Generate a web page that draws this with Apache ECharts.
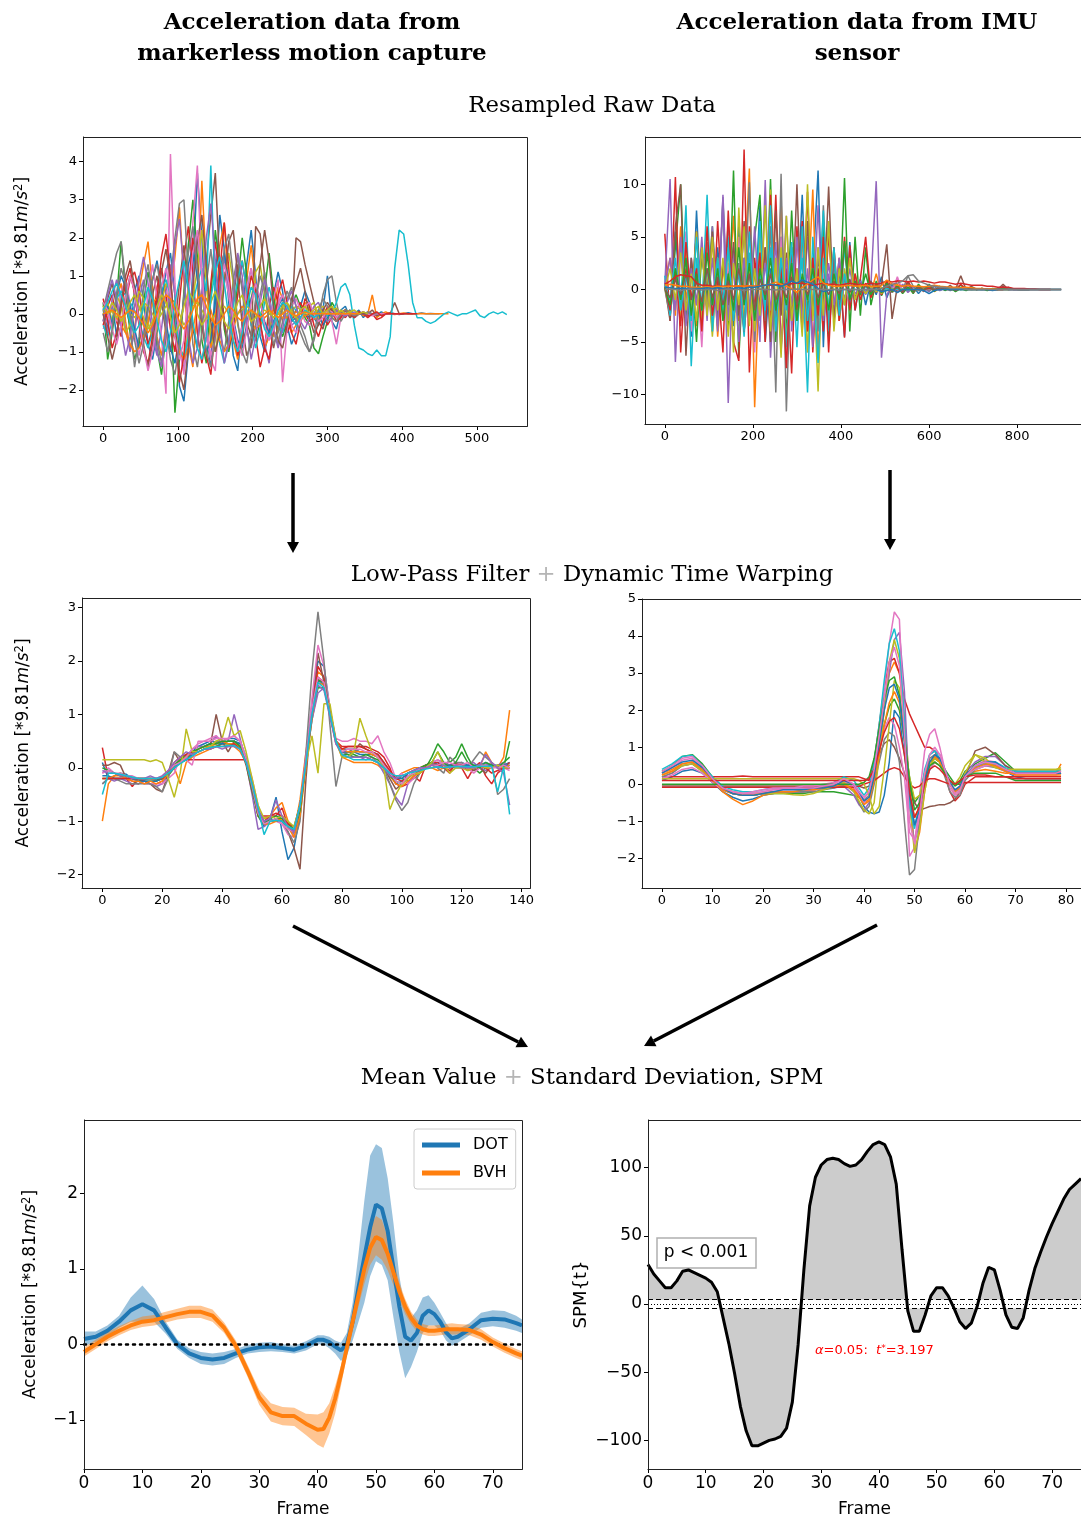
<!DOCTYPE html>
<html>
<head>
<meta charset="utf-8">
<script src="https://cdn.jsdelivr.net/npm/echarts@6/dist/echarts.min.js"></script>
<style>
  html, body { margin: 0; padding: 0; background: #ffffff; }
  #chart { width: 1081px; height: 1521px; }
</style>
</head>
<body>
<div id="chart"></div>
<script>
// ---------- colour cycle ----------
const TAB10 = ['#1f77b4', '#ff7f0e', '#2ca02c', '#d62728', '#9467bd',
               '#8c564b', '#e377c2', '#7f7f7f', '#bcbd22', '#17becf'];

// ---------- panel 1: resampled markerless traces (one sample every 6 frames) ----------
const RAW_MC_STEP = 6;
const rawMC_0 = [0.1,-0.4,0.3,-0.6,0.5,0.2,-0.3,0.6,1.0,0.4, -0.8,-1.2,-0.5,0.3,1.1,1.6,0.5,-1.9,-2.3,-1.0, 1.2,3.7,2.0,-0.5,-1.4,0.8,2.6,1.7,0.3,-1.1, -1.5,-0.2,1.3,2.2,1.0,-0.6,-1.0,-0.4,0.5,1.1, 0.6,-0.3,-0.8,-0.5,0.2,0.6,0.3,-0.1,-0.3,0.1, 1.0,-0.2,-0.4,0.1,0.2,-0.1,0.0,0.1,-0.1,0.05, 0.0,-0.05,0.05,0.0,0.02,0.0,-0.02,0.0,0.03,0.0, 0.0,0.02,0.0,0.01,0.0,0.0];
const rawMC_1 = [0.2,0.0,-0.3,0.4,0.8,-0.2,-0.9,-0.4,0.6,1.3, 1.9,0.7,-0.6,-1.1,-0.3,0.5,1.5,2.8,0.9,-0.8, -1.4,0.2,3.5,1.2,-0.9,-0.2,1.8,2.4,0.6,-0.7, -1.2,-0.5,0.9,1.8,0.7,-0.3,-0.9,-0.6,0.2,0.7, 0.4,-0.2,-0.5,-0.3,0.1,0.3,0.1,-0.1,-0.2,0.0, 0.15,-0.1,-0.2,0.05,0.1,-0.05,0.0,0.05,-0.05,0.0, 0.5,-0.1,0.0,0.05,0.0,-0.02,0.0,0.02,0.0,0.0, 0.0,0.01,0.0,0.0,0.0,0.0,0.0,0.0];
const rawMC_2 = [0.3,-1.2,-0.5,0.4,1.9,0.6,-0.5,-1.2,-0.8,0.3, 1.1,0.4,-0.9,-1.6,-0.6,0.5,-2.6,-1.2,0.6,1.8, 3.0,1.5,-0.7,-1.3,0.4,2.2,1.2,-0.4,-1.0,-0.3, 0.8,2.0,1.0,-0.2,-0.7,-0.2,0.6,1.6,0.5,-0.3, -0.6,-0.2,0.2,0.5,0.2,-0.1,-0.3,-0.9,-1.05,-0.6, -0.2,0.3,0.1,-0.1,0.0,0.1,-0.1,0.0,0.05,-0.05, 0.0,0.02,0.0,0.0,0.0,0.0,0.0];
const rawMC_3 = [-0.3,0.2,0.5,-0.2,-0.6,0.3,0.9,1.1,0.6,-0.3, -0.8,-0.4,0.7,1.2,0.5,-0.4,-1.0,0.3,1.5,2.3, 1.1,-0.5,-1.3,-0.6,0.8,1.9,1.0,-0.2,-0.9,-0.4, 0.5,1.4,0.6,-0.3,-0.6,-1.4,-0.9,0.2,0.7,0.3, -0.2,-0.5,-0.2,0.1,0.3,0.0,-0.2,-0.1,0.1,0.0, -0.3,-0.1,0.1,0.0,-0.1,0.05,-0.1,0.0,0.05,-0.05, 0.0,-0.15,-0.1,0.0,0.02,0.0,0.0,0.0];
const rawMC_4 = [0.0,-0.5,0.4,0.9,0.3,-0.4,-1.0,-0.5,0.4,0.9, 0.3,-0.6,-1.1,-0.4,0.6,1.3,0.5,-0.7,-1.5,-0.6, 0.9,2.1,1.0,-0.4,-1.2,-0.5,0.7,1.5,0.6,-0.4, -1.0,-0.3,0.6,1.2,0.4,-0.3,-0.8,-1.3,-0.4,0.3, 0.5,0.1,-0.3,-0.2,0.1,0.2,0.0,-0.1,0.0,0.1, -0.05,0.0,0.05,0.0,-0.05,0.0,0.0,0.0,0.0,0.0, 0.0,0.0,0.0,0.0];
const rawMC_5 = [-0.2,0.4,0.8,0.2,-0.3,0.5,1.0,0.6,-0.2,-0.7, -0.3,0.5,1.0,0.3,-0.5,-1.0,-0.3,0.8,1.8,0.6, -0.4,-0.9,0.3,1.4,2.6,3.7,1.2,-0.3,-0.8,0.4, 1.3,0.7,-0.2,-0.6,2.3,2.1,1.0,-0.4,-0.9,-0.3, 0.3,0.2,-0.2,2.0,1.9,1.3,0.8,0.3,-0.2,-0.4, 0.1,0.2,-0.1,0.0,0.1,-0.1,0.0,0.05,0.0,0.0, 0.1,-0.05,0.0,0.0,0.0,0.3,0.0,0.0,0.0,0.0];
const rawMC_6 = [-0.4,-0.1,0.3,-0.2,0.6,0.9,0.3,-0.5,-1.1,-0.4, 0.5,1.3,0.4,-0.6,-2.1,4.2,0.8,-0.9,-1.6,0.3, 2.4,3.9,1.0,-0.6,-1.2,-1.5,0.3,1.1,0.5,-0.4, -0.9,-0.3,0.7,1.2,0.4,-0.4,-0.8,-0.3,0.4,0.9, -1.8,-0.4,0.2,0.4,0.1,-0.2,-0.3,-0.1,0.1,0.2, 0.0,-0.2,-0.8,-0.1,0.0,0.1,-0.1,0.0,0.05,0.0, -0.05,0.0,0.0,0.0,0.0,0.0,0.0];
const rawMC_7 = [0.1,0.6,1.1,1.6,1.9,0.8,-0.3,-1.4,-0.6,0.7, 1.3,0.5,-0.7,-1.3,-0.4,0.9,2.0,2.9,3.0,1.0, -0.8,-1.4,-0.5,0.8,1.7,0.6,-0.5,-1.0,-0.2,0.9, 1.5,0.6,-0.4,-0.9,-0.3,0.5,1.1,0.3,-0.5,-0.8, -0.2,0.4,0.7,0.2,-0.3,-0.6,-1.0,-0.7,-0.2,0.5, 0.9,1.0,0.3,-0.2,0.0,0.1,-0.1,0.0,0.0,0.05, 0.0,0.0];
const rawMC_8 = [0.0,0.3,-0.2,0.5,0.2,-0.5,-0.3,0.2,0.6,0.4, -0.2,-0.7,-0.4,0.3,0.8,0.6,-0.2,-0.9,-1.1,-0.5, 0.4,1.2,2.2,0.8,-0.6,-1.0,-0.2,0.9,1.6,0.8, -0.3,-0.8,-0.5,0.4,1.1,1.3,0.5,-0.2,-0.6,-0.4, 0.1,0.3,0.1,-0.1,-0.2,0.0,0.2,0.3,-0.1,0.0, 0.1,-0.1,0.0,0.05,0.0,0.0];
const rawMC_9 = [-0.3,-0.6,-0.2,0.4,0.6,0.5,0.3,0.1,-0.2,-0.6, -0.9,-0.5,0.1,0.6,0.9,0.5,-0.2,-0.8,-1.2,-0.6, 0.3,0.8,1.2,0.6,3.9,0.4,-0.8,-1.3,-0.7,0.2, 0.9,1.4,0.6,-0.3,-0.9,-0.4,0.3,0.7,0.2,-0.3, -0.5,-0.1,0.2,0.1,-0.1,0.1,0.0,-0.1,0.1,0.0, -0.05,0.0,0.3,0.7,0.8,0.5,-0.3,-0.9,-0.95,-1.05, -1.1,-0.95,-1.1,-1.1,-0.6,1.2,2.2,2.1,1.3,0.3, -0.1,-0.1,-0.2,-0.25,-0.2,-0.1,0.0,0.05,0.0,-0.05, 0.0,0.0,0.05,0.1,-0.05,-0.1,0.0,0.05,0.0,0.05, -0.02];
const rawMC_10 = [0.0,0.2,-0.3,0.5,1.0,0.7,0.2,-0.4,-0.9,-0.6, 0.2,0.9,1.4,0.7,-0.2,-0.9,-1.3,-0.6,0.4,1.3, 1.8,0.9,-0.2,-1.0,-0.7,0.3,1.2,1.6,0.8,-0.1, -0.7,-0.9,-0.3,0.4,0.8,0.3,-0.2,-0.5,-0.2,0.2, 0.4,0.1,-0.2,-0.1,0.1,0.0,-0.1,0.05,0.0,-0.3, -0.1,0.05,0.0,0.0,0.0,0.0,0.0,0.0];
const rawMC_11 = [0.1,0.0,0.1,-0.1,-0.3,-0.5,-0.8,-1.0,-0.9,-0.6, -0.2,0.3,0.4,0.5,0.3,-0.1,-0.6,-1.0,-1.2,-0.9, -0.4,0.2,0.5,0.4,0.1,-0.3,-0.7,-1.0,-0.8,-0.4, 0.0,0.2,0.1,-0.2,-0.4,-0.3,-0.1,0.0,0.1,0.0, -0.1,-0.1,0.0,0.05,0.0,-0.05,0.0,0.0,0.0,0.0, 0.0,0.0,0.0,0.0,0.0,0.0,0.0];
const rawMC_12 = [0.0,0.1,0.05,-0.1,0.1,0.2,0.0,-0.1,0.1,0.3, 0.2,0.0,-0.2,0.0,0.2,0.4,0.3,0.0,-0.3,-0.1, 0.2,0.3,0.1,-0.1,-0.2,0.0,0.1,0.2,0.0,-0.1, 0.0,0.1,0.2,0.1,-0.1,0.0,0.1,0.0,-0.1,0.0, 0.05,0.0,0.1,0.2,0.1,0.0,0.1,0.0,0.1,0.2, 0.0,0.1,0.15,0.0,0.1,0.05,0.0,0.0,0.02,0.0];
const rawMC_13 = [0.4,-0.2,-0.9,-0.5,0.2,0.8,1.2,0.5,-0.3,-1.0, -1.3,-0.6,0.4,1.5,2.1,1.0,-0.5,-1.8,-1.1,0.6, 2.0,1.3,-0.2,-1.1,-1.6,-0.4,1.1,2.4,1.2,-0.3, -1.1,-0.7,0.3,1.0,0.6,-0.2,-0.9,-1.2,-0.4,0.5, 0.9,0.3,-0.5,-0.8,-0.2,0.4,0.2,-0.3,-0.6,-0.2, 0.2,0.1,-0.2,-0.1,0.1,0.0,-0.1,0.05,0.0,-0.1, 0.0,0.05,-0.05,0.0,0.0,0.0,0.0,0.0,0.0,0.0, 0.0];
const rawMC_14 = [-0.2,0.5,0.9,0.4,-0.4,-1.1,-0.6,0.2,0.9,1.5, 0.8,-0.3,-1.0,-1.4,-0.5,0.7,1.8,2.5,1.1,-0.6, -1.3,-0.9,0.6,2.0,2.9,1.4,-0.2,-1.3,-0.8,0.5, 1.6,1.0,-0.3,-1.2,-0.6,0.3,0.9,0.4,-0.4,-0.9, -0.4,0.3,0.6,0.2,-0.2,-0.4,-0.1,0.2,0.3,0.0, -0.2,-0.1,0.1,0.0,-0.05,0.0,0.05,0.0,0.0,0.0];
const rawMC_15 = [0.0,-0.6,-1.2,-0.7,0.3,1.0,1.4,0.7,-0.1,-0.8, -1.4,-0.8,0.2,1.1,1.7,0.9,-0.4,-1.5,-2.0,-0.9, 0.7,1.9,2.6,1.3,-0.2,-1.0,-0.5,0.8,1.9,2.2, 1.0,-0.3,-1.1,-0.8,0.2,1.3,2.2,1.4,0.2,-0.7, -0.9,-0.3,0.4,0.8,1.2,0.6,-0.1,-0.5,-0.3,0.1, 0.3,0.1,-0.1,0.0,0.1,0.0,-0.05,0.0,0.0,0.0];
const rawMC_16 = [0.3,0.1,-0.4,-0.8,-0.3,0.4,1.0,0.6,-0.2,-0.9, -1.5,-1.0,-0.2,0.7,1.2,0.5,-0.6,-1.2,-0.7,0.5, 1.6,2.2,1.1,-0.3,-1.1,-0.7,0.4,1.3,0.8,-0.2, -0.8,-1.1,-0.4,0.3,0.8,0.4,-0.3,-0.7,-0.4,0.2, 0.5,0.2,-0.3,-0.5,-0.2,0.2,0.3,0.0,-0.2,-0.1, 0.1,0.05,-0.1,0.0,0.0,0.0,0.0,0.0];
const rawMC_17 = [-0.5,-1.0,-0.4,0.5,1.2,0.8,0.0,-0.7,-1.3,-0.8, 0.1,0.9,1.3,0.6,-0.4,-1.2,-1.6,-0.8,0.5,1.6, 2.3,1.2,-0.1,-1.0,-1.4,-0.6,0.6,1.7,2.1,1.0, -0.2,-1.0,-1.3,-0.5,0.4,1.0,0.6,-0.2,-0.8,-0.5, 0.2,0.6,0.3,-0.2,-0.5,-0.8,-1.0,-0.6,0.1,0.4, 0.2,-0.1,-0.2,0.0,0.1,0.0,-0.05,0.0];
const rawMC_18 = [0.2,0.0,0.3,0.1,-0.2,0.0,0.3,0.5,0.2,-0.1, -0.4,-0.2,0.2,0.5,0.3,-0.1,-0.5,-0.3,0.2,0.6, 0.4,0.0,-0.3,-0.1,0.3,0.6,0.2,-0.2,-0.4,-0.1, 0.3,0.5,0.1,-0.2,-0.1,0.2,0.4,0.1,-0.1,0.0, 0.2,0.3,0.0,-0.1,0.1,0.2,0.0,0.1,0.2,0.0, 0.1,0.2,0.0,0.1,0.0,0.05,0.1,0.0,0.05,0.0];
const rawMC_19 = [0.1,0.3,0.6,0.8,0.5,0.2,-0.2,-0.5,-0.3,0.2, 0.7,0.4,-0.2,-0.7,-1.0,-0.5,0.3,0.9,1.4,0.7, -0.2,-0.9,-1.2,-0.6,0.4,1.1,1.5,0.8,-0.1,-0.7, -1.0,-0.5,0.2,0.7,0.5,0.0,-0.4,-0.6,-0.3,0.1, 0.3,0.2,-0.1,-0.3,-0.1,0.1,0.0,-0.1,0.0,0.0];
const rawMC_20 = [0.0,0.05,0.1,0.0,-0.1,0.0,0.1,0.05,-0.1,-0.3, -0.5,-0.3,0.0,0.3,0.5,0.4,0.1,-0.2,-0.4,-0.2, 0.1,0.4,0.5,0.2,-0.1,-0.3,-0.2,0.0,0.2,0.1, -0.1,-0.2,0.0,0.1,0.0,-0.1,0.0,0.1,0.0,-0.1, 0.0,0.1,0.0,-0.05,0.0,0.05,0.0,0.0,0.0,0.0, 0.0,0.0,0.0,0.0,0.0,0.0,0.0,0.0];
const rawMC = [rawMC_0, rawMC_1, rawMC_2, rawMC_3, rawMC_4, rawMC_5, rawMC_6,
               rawMC_7, rawMC_8, rawMC_9, rawMC_10, rawMC_11, rawMC_12, rawMC_13,
               rawMC_14, rawMC_15, rawMC_16, rawMC_17, rawMC_18, rawMC_19, rawMC_20];
const rawMC_colors = [0, 1, 2, 3, 4, 5, 6, 7, 8, 9, 0, 1, 8, 3, 4, 5, 6, 7, 8, 9, 1];
const rawMC_xTicks = [0, 100, 200, 300, 400, 500];
const rawMC_yTicks = [-2, -1, 0, 1, 2, 3, 4];

// ---------- panel 2: resampled IMU traces (one sample every 12 frames) ----------
const RAW_IMU_STEP = 12;
const rawIMU_0 = [0.5,-2.0,5.5,-1.0,3.0,-4.5,7.5,-3.0,1.0,-2.5, 4.0,-1.5,2.0,-3.5,6.0,-4.0,1.5,-2.0,8.0,-5.0, 2.0,-3.0,5.0,-6.0,3.0,-2.0,9.0,-4.0,1.5,11.3, -5.5,6.5,-3.0,2.0,-4.5,4.5,-2.0,1.0,-1.5,0.8, -0.5,1.2,-0.8,0.5,-0.3,0.4,-0.2,0.3,-0.4,0.2, -0.2,0.3,-0.1,0.2,-0.1,0.1,0.0,0.1,0.0,0.05, 0.0,0.05,0.0,0.0,0.0,0.0,0.0,0.0,0.0,0.0];
const rawIMU_1 = [0.4,3.0,-2.5,6.0,-1.0,2.5,-3.5,4.0,-2.0,5.0, -4.5,2.0,-1.0,7.0,-3.0,1.0,11.5,-11.2,3.0,-2.0, 6.0,-4.0,8.5,-5.5,2.0,-3.0,5.0,-1.5,9.5,-6.0, 2.5,-2.0,4.0,-3.0,1.5,-1.0,0.8,-0.6,0.5,-0.4, 1.5,-0.5,0.8,-0.3,0.5,-0.2,0.4,-0.3,0.2,-0.1, 0.3,-0.2,0.1,0.0,0.1,0.0,0.05,0.0,0.0,0.0, 0.0,0.0,0.0,0.0,0.0];
const rawIMU_2 = [0.3,-2.0,4.0,10.0,-3.0,2.0,-5.0,3.5,-1.0,6.0, -2.5,8.5,-4.0,11.3,-6.5,3.0,-2.0,5.0,9.0,-3.5, 10.5,-5.0,2.0,-4.0,7.5,-3.0,5.5,-2.0,1.5,-3.0, 6.0,-4.5,2.0,-2.5,10.6,-4.0,5.0,-2.5,4.0,-1.5, 0.8,-0.6,0.5,-0.3,0.4,-0.2,0.3,-0.4,0.5,-0.1, 0.2,-0.1,0.3,0.0,0.1,0.0,0.4,0.0,0.1,0.0, 0.0,0.0,0.0,0.0,0.0,0.0];
const rawIMU_3 = [5.3,-3.0,10.7,-6.0,2.0,-1.5,5.5,-3.0,2.0,-4.0, 6.5,-2.0,1.5,-5.0,-6.8,13.3,-7.9,3.0,-2.0,4.0, -3.0,9.0,-5.5,2.0,-8.0,6.0,-3.0,9.3,-6.0,2.0, -4.0,5.5,-2.0,3.0,-4.6,4.2,-2.0,1.0,5.0,-0.8, 0.5,-0.5,0.8,-0.3,1.0,-0.2,0.8,-0.1,0.3,0.0, 0.4,0.0,0.2,0.0,0.1,0.0,0.5,0.0,0.1,0.0, 0.05,0.0,0.0,0.0,0.0];
const rawIMU_4 = [0.5,10.5,-6.9,4.0,-2.0,3.0,-1.5,5.0,-3.0,6.0, -2.0,8.8,-10.8,4.0,-2.5,6.0,-3.0,2.0,-5.0,10.4, -6.5,3.0,-2.0,7.0,-4.0,2.0,-3.5,5.0,-2.5,8.0, -3.0,1.5,-2.0,3.0,-1.5,2.0,-1.0,0.8,-0.5,0.4, 10.3,-6.5,-0.5,0.3,-0.2,0.5,-0.3,0.2,-0.1,0.2, -0.2,0.4,-0.1,0.1,0.0,0.2,0.0,0.1,0.0,0.05, 0.0,0.0,0.0,0.0,0.0,0.2,0.0,0.0,0.0,0.0, 0.0,0.0,0.0,0.0,0.0,0.0];
const rawIMU_5 = [0.3,-3.0,6.0,10.0,-6.3,3.0,-1.5,4.0,-2.0,5.5, -3.5,2.5,-1.5,4.5,-2.5,6.5,-3.0,2.0,-1.5,4.0, -5.0,7.5,-2.5,3.5,-3.0,10.0,-4.0,6.5,-2.0,3.0, -1.5,9.8,-3.0,2.0,-1.5,1.0,-0.8,0.6,-0.4,0.8, -0.3,0.5,4.3,-2.8,0.3,-0.2,0.6,-0.3,0.2,-0.2, 0.4,-0.1,0.2,0.0,0.1,0.0,1.3,0.0,0.3,0.0, 0.1,0.0,0.0,0.0,0.5,0.0,0.0,0.0,0.0,0.0];
const rawIMU_6 = [0.2,-1.5,3.0,-2.0,5.5,-4.0,2.0,-5.5,4.5,-2.0, 1.5,-3.0,2.5,-1.5,5.0,-4.0,3.0,-6.0,5.5,-2.5, 4.0,-3.0,5.0,-7.0,3.0,-2.0,4.0,-6.0,3.0,-2.0, 1.5,-3.5,3.0,-2.0,1.0,-1.5,1.2,-0.6,0.5,-0.4, 0.3,-0.2,0.5,-0.3,1.2,-0.2,0.3,-0.1,0.2,-0.1, 0.1,0.0,0.2,0.0,0.1,0.0,0.05,0.0,0.0,0.0, 0.0,0.0,0.0,0.0,0.3,0.0,0.05,0.0,0.0,0.0, 0.0,0.0,0.0,0.0,0.0,0.0];
const rawIMU_7 = [0.0,-2.5,2.0,-1.5,3.5,-2.0,1.0,-3.0,4.5,-1.5, 2.0,-2.5,6.5,-3.0,2.5,-1.5,10.2,-5.0,3.0,-2.0, 6.0,-9.8,11.0,-11.6,4.0,-2.5,5.5,-3.0,2.0,-4.0, 8.0,-3.0,2.0,-1.5,1.0,-0.8,0.5,-0.3,0.4,-0.2, 0.3,-0.2,0.5,-0.3,0.2,-0.1,1.3,0.3,-0.1,0.2, -0.1,0.1,0.0,0.1,0.0,0.05,0.0,0.0,0.0,0.0, 0.0,0.0,0.0,0.0,0.0,0.2,0.0,0.0,0.0,0.0];
const rawIMU_8 = [0.1,-1.5,2.0,-3.0,4.0,-2.0,5.5,-3.5,2.0,-4.5, 3.0,-2.0,4.0,-6.0,7.8,-3.0,2.0,-4.0,5.0,-3.0, 9.5,-2.5,4.0,-5.0,3.0,-2.0,6.0,-6.0,3.0,-9.7, 5.0,-2.0,1.5,-3.0,2.0,-1.0,1.5,-0.6,0.4,-0.3, 0.2,-0.4,0.3,-0.2,0.2,-0.1,0.1,-0.1,0.2,0.0, 0.1,0.0,0.05,0.0,0.0,0.0,0.0,0.0,0.0,0.0];
const rawIMU_9 = [1.3,-2.5,2.0,-1.5,8.0,-7.3,3.0,-2.0,9.0,-4.0, 2.5,-1.5,5.0,-3.0,2.0,-4.5,3.5,-2.5,6.5,-3.0, 4.0,-2.0,3.0,-5.5,4.0,-2.0,3.0,-9.8,5.0,-2.5, 7.5,-4.0,3.0,-2.5,4.0,-1.5,0.8,-0.5,0.4,-0.3, 0.2,-0.2,0.3,-0.2,0.2,-0.1,0.2,-0.1,0.1,0.0, 0.1,0.0,0.05,0.0,0.0,0.0,0.0,0.0,0.0,0.0, 0.0,0.0,0.0,0.0];
const rawIMU_10 = [0.5,0.8,1.2,1.4,1.3,1.2,0.6,0.4,0.4,0.3, 0.3,0.3,0.3,0.3,0.3,0.3,0.3,0.3,0.35,0.4, 0.4,0.45,0.5,0.5,0.55,0.6,0.6,0.5,0.4,0.5, 0.6,0.5,0.5,0.4,0.5,0.6,0.5,0.4,0.5,0.6, 0.5,0.6,0.8,0.7,0.8,0.8,0.7,0.8,0.7,0.8, 0.7,0.6,0.7,0.7,0.6,0.5,0.6,0.5,0.4,0.4, 0.4,0.3,0.3,0.2,0.2,0.2,0.1,0.1,0.1,0.05, 0.05,0.0,0.0,0.0];
const rawIMU_11 = [0.4,0.5,0.4,0.3,0.3,0.2,0.2,0.2,0.25,0.2, 0.3,0.25,0.3,0.3,0.35,0.3,0.35,0.3,0.3,0.4, 0.5,0.7,0.5,0.3,0.1,-0.3,0.2,0.5,0.9,1.2, 0.6,0.4,0.3,0.3,0.35,0.4,0.3,0.35,0.4,0.3, 0.3,0.35,0.9,0.5,0.4,0.3,0.4,0.3,0.3,0.25, 0.3,0.4,0.3,0.25,0.2,0.2,0.15,0.2,0.15,0.1, 0.1,0.05,0.05,0.0,0.0,0.0];
const rawIMU_12 = [0.2,0.15,0.1,0.1,0.1,0.1,0.1,0.1,0.15,0.1, 0.15,0.1,0.1,0.1,0.15,0.1,0.2,0.2,0.3,0.4, 0.5,0.4,0.3,0.5,0.8,0.6,0.9,0.7,0.5,0.1, -0.2,-0.1,0.0,0.0,0.0,0.0,0.0,0.0,0.0,0.0, 0.0,-0.2,-0.1,0.0,-0.3,0.0,0.0,0.0,0.0,-0.1, -0.4,-0.1,0.0,0.0,0.0,0.0,0.0,0.0,0.0,0.0, 0.0,0.0,-0.1,0.0,0.0,0.0,0.0,0.0,0.0,0.0, 0.0,0.0,0.0,0.0,0.0,0.0];
const rawIMU_13 = [0.0,0.05,0.0,-0.1,0.0,0.05,0.0,-0.05,0.0,0.0, -0.1,0.0,0.05,0.0,0.0,-0.1,0.0,0.0,0.05,0.0, 0.0,-0.05,0.0,0.0,0.0,0.05,0.0,0.0,0.0,0.0, 0.0,0.0,0.0,0.0,0.0,0.0,0.0,0.0,0.0,0.0, 0.0,0.1,0.3,0.5,0.6,0.8,1.3,1.4,0.8,0.6, 0.4,0.3,0.2,0.2,0.1,0.1,0.1,0.0,0.0,0.0, 0.0,0.0,0.0,0.0,0.0,0.0,0.0,0.0,0.0,0.0, 0.0,0.0,0.0,0.0,0.0,0.0];
const rawIMU_14 = [0.3,-2.0,1.5,-3.5,4.5,-1.0,2.0,-4.0,6.0,-2.5, 1.0,-6.0,7.5,-3.0,2.0,-4.0,6.0,-2.0,3.5,-5.0, 9.0,-3.0,2.5,-7.5,4.0,-2.0,6.5,-4.0,3.0,-2.5, 5.0,-6.0,4.0,-3.0,5.0,-2.0,1.5,-1.0,0.6,-0.4, 0.5,-0.3,0.3,-0.2,0.2,-0.1,0.2,-0.1,0.1,0.0, 0.1,0.0,0.05,0.0,0.0,0.0];
const rawIMU_15 = [0.2,3.0,-2.0,5.0,-3.5,2.0,-1.5,4.0,-2.0,3.0, -4.0,9.0,-3.0,2.0,-5.0,3.0,-2.0,6.0,-3.0,2.5, -2.0,4.5,-6.0,3.0,-1.5,5.0,-3.0,2.0,-5.5,4.0, -2.0,2.5,-1.5,1.0,-0.8,0.6,-0.4,0.3,-0.2,0.2, -0.2,0.1,-0.1,0.1,0.0,0.05,0.0,0.0];
const rawIMU_16 = [0.0,2.0,-1.0,3.5,-2.0,1.5,-3.0,4.0,-2.5,5.0, -2.0,3.0,-4.5,2.5,-1.5,6.0,-3.5,2.0,-2.5,8.0, -4.0,3.0,-6.5,7.0,-3.0,2.0,-4.5,10.0,-3.0,4.0, -2.5,6.5,-4.0,2.0,-1.5,3.0,-1.0,0.5,-0.4,0.3, -0.2,0.2,-0.1,0.1,0.0,0.05,0.0,0.0,0.0,0.0];
const rawIMU_17 = [0.5,-1.0,3.0,-2.0,1.5,-3.0,5.0,-2.0,2.0,-1.5, 3.0,-2.0,4.0,-3.0,2.0,-4.0,5.5,-3.0,1.5,-2.0, 8.0,-4.0,3.0,-2.0,4.5,-5.5,6.0,-3.0,2.0,-7.0, 3.0,-2.0,4.0,-2.5,1.5,-1.0,0.5,-0.3,0.3,-0.2, 0.2,-0.1,0.1,0.0,0.05,0.0,0.0,0.0];
const rawIMU_18 = [0.2,-1.5,2.0,-1.0,3.0,-2.5,1.5,-2.0,3.5,-1.5, 2.0,-3.0,1.5,-2.0,4.0,-1.5,2.5,-3.0,2.0,-1.0, 3.0,-2.0,1.0,-1.5,2.5,-3.0,1.5,-1.0,2.0,-1.5, 1.0,-2.0,1.5,-1.0,4.6,-1.0,0.8,-0.5,1.5,-0.5, 0.4,-0.3,0.6,-0.2,0.3,-0.4,0.2,-0.2,0.3,-0.1, 0.5,-0.2,0.3,-0.1,0.2,-0.2,0.1,-0.1,0.2,0.0, 0.1,-0.1,0.1,0.0,0.1,0.0,0.05,0.0,0.0,0.0, 0.0,0.0,0.0,0.0,0.0,0.0];
const rawIMU_19 = [0.1,-0.8,1.0,-0.5,1.5,-1.0,0.8,-1.2,2.0,-0.8, 1.2,-1.5,0.8,-1.0,2.0,-1.0,1.5,-2.0,1.0,-0.5, 1.5,-1.0,0.5,-0.8,1.2,-1.5,0.8,-0.5,1.0,-0.8, 0.6,-0.5,0.8,-0.4,0.5,-0.3,0.6,-0.3,0.4,-0.2, 0.3,-0.2,0.4,-0.1,0.2,-0.3,0.6,-0.1,0.2,-0.1, 0.3,-0.1,0.2,0.0,0.4,-0.1,0.1,0.0,0.1,0.0, 0.1,0.0,0.0,0.0,0.3,0.0,0.0,0.0,0.0,0.0, 0.0,0.0,0.0,0.0];
const rawIMU = [rawIMU_0, rawIMU_1, rawIMU_2, rawIMU_3, rawIMU_4, rawIMU_5, rawIMU_6,
                rawIMU_7, rawIMU_8, rawIMU_9, rawIMU_14, rawIMU_15, rawIMU_16, rawIMU_17,
                rawIMU_18, rawIMU_19, rawIMU_10, rawIMU_11, rawIMU_12, rawIMU_13];
const rawIMU_colors = [0, 1, 2, 3, 4, 5, 6, 7, 8, 9, 3, 4, 8, 9, 2, 5, 3, 1, 0, 7];
const rawIMU_xTicks = [0, 200, 400, 600, 800];
const rawIMU_yTicks = [-10, -5, 0, 5, 10];

// ---------- panel 3: filtered + time-warped markerless traces ----------
const dtwMC_frames = [0,2,4,6,8,10,12,14,16,18,20,22,24,26,28,30,32,34,36,38,40,42,44,46,48,50,52,54,56,58,60,62,64,66,68,70,72,74,76,78,80,82,84,86,88,90,92,94,96,98,100,102,104,106,108,110,112,114,116,118,120,122,124,126,128,130,132,134,136];
const dtwMC_0 = [0.1,-0.2,-0.15,-0.1,-0.12,-0.2,-0.25,-0.22,-0.2,-0.22, -0.2,-0.05,0.05,0.1,0.2,0.3,0.4,0.45,0.5,0.48, 0.5,0.55,0.55,0.5,0.2,-0.35,-0.9,-1.1,-0.95,-0.55, -1.2,-1.72,-1.5,-0.9,0.2,1.2,2.0,1.9,1.1,0.5, 0.35,0.35,0.35,0.3,0.3,0.3,0.25,0.1,-0.1,-0.3, -0.25,-0.15,-0.1,-0.05,0.0,0.05,0.1,0.05,0.0,0.05, 0.1,0.05,0.0,0.05,0.1,0.05,0.0,0.05,0.1];
const dtwMC_1 = [-1.0,-0.3,-0.15,-0.1,-0.15,-0.2,-0.2,-0.2,-0.2,-0.25, -0.2,-0.1,0.0,-0.3,0.1,0.2,0.25,0.3,0.35,0.4, 0.45,0.45,0.4,0.3,0.1,-0.3,-0.8,-0.95,-0.9,-0.75, -0.65,-1.0,-1.2,-0.6,0.3,1.1,1.8,1.7,1.1,0.5, 0.2,0.15,0.1,0.1,0.1,0.1,0.05,-0.05,-0.15,-0.2, -0.1,-0.05,0.0,0.0,0.05,0.0,-0.05,0.0,0.05,0.0, 0.0,0.05,0.0,0.0,0.3,0.1,0.0,0.2,1.08];
const dtwMC_2 = [-0.2,-0.2,-0.2,-0.2,-0.2,-0.2,-0.22,-0.25,-0.25,-0.25, -0.2,-0.15,0.0,0.1,0.2,0.25,0.3,0.35,0.4,0.4, 0.45,0.45,0.45,0.4,0.1,-0.35,-0.85,-1.05,-1.0,-0.95, -0.95,-1.05,-1.15,-0.7,0.1,0.9,1.5,1.5,1.0,0.5, 0.3,0.3,0.25,0.2,0.2,0.15,0.1,0.0,-0.1,-0.15, -0.2,-0.25,-0.2,-0.1,0.0,0.2,0.45,0.3,0.1,0.2, 0.45,0.2,0.0,-0.1,0.0,0.1,0.0,0.0,0.5];
const dtwMC_3 = [0.38,-0.2,-0.2,-0.2,-0.2,-0.35,-0.2,-0.25,-0.3,-0.3, -0.25,-0.1,0.0,0.1,0.15,0.15,0.15,0.15,0.15,0.15, 0.15,0.15,0.15,0.15,0.15,-0.4,-0.9,-0.9,-0.9,-0.9, -0.75,-1.1,-1.2,-0.8,0.2,1.0,1.9,1.7,1.0,0.5, 0.4,0.4,0.4,0.4,0.4,0.35,0.3,0.2,0.0,-0.3, -0.35,-0.3,-0.15,-0.25,0.05,0.1,0.1,0.0,-0.1,0.1, 0.0,-0.2,0.0,0.1,-0.15,-0.3,-0.1,0.0,0.1];
const dtwMC_4 = [-0.3,-0.2,-0.25,-0.2,-0.25,-0.3,-0.3,-0.25,-0.3,-0.35, -0.3,-0.1,0.0,0.15,0.2,0.35,0.4,0.4,0.45,0.6, 0.45,0.5,1.0,0.55,0.1,-0.5,-1.15,-1.1,-1.0,-1.0, -1.0,-1.1,-1.25,-0.8,0.1,0.9,1.4,1.5,1.0,0.5, 0.3,0.25,0.2,0.2,0.15,0.2,0.1,-0.1,-0.3,-0.55, -0.7,-0.3,-0.15,-0.05,0.0,0.1,0.15,0.1,0.05,0.0, 0.0,0.05,0.1,0.0,-0.05,0.0,0.05,0.1,0.0];
const dtwMC_5 = [0.05,0.05,0.1,0.05,-0.2,-0.25,-0.3,-0.25,-0.3,-0.4, -0.45,-0.1,0.3,0.1,0.2,0.3,0.3,0.35,0.4,1.0, 0.5,0.3,0.5,0.4,0.05,-0.45,-0.8,-1.05,-1.0,-0.95, -1.0,-1.2,-1.5,-1.9,-0.2,1.2,2.15,1.6,1.0,0.5, 0.3,0.3,0.3,0.45,0.35,0.3,0.2,0.0,-0.2,-0.4, -0.3,-0.1,-0.05,0.0,0.05,0.1,0.05,0.0,0.05,0.1, 0.05,0.0,-0.05,0.0,-0.1,0.05,0.0,0.0,0.0];
const dtwMC_6 = [-0.1,0.0,-0.1,-0.15,-0.2,-0.25,-0.25,-0.3,-0.3,-0.3, -0.3,-0.2,-0.1,0.2,0.15,0.05,0.5,0.5,0.55,0.6, 0.5,0.55,0.6,0.5,0.2,-0.2,-0.7,-1.05,-1.0,-1.0, -1.05,-1.25,-1.3,-0.8,0.2,1.3,2.3,1.9,1.1,0.55, 0.5,0.5,0.55,0.5,0.5,0.45,0.6,0.3,0.1,-0.2, -0.1,-0.3,-0.2,-0.05,0.0,0.1,0.15,0.05,0.0,0.05, 0.1,0.0,-0.1,0.0,0.05,0.1,0.0,0.0,-0.05];
const dtwMC_7 = [-0.3,-0.2,-0.2,-0.25,-0.3,-0.3,-0.3,-0.3,-0.3,-0.35, -0.45,-0.2,0.3,0.2,0.15,0.25,0.3,0.35,0.4,0.5, 0.45,0.5,0.5,0.45,0.15,-0.35,-0.85,-1.0,-1.0,-1.0, -1.0,-1.2,-1.4,-1.0,0.3,1.8,2.92,2.0,0.8,-0.35, 0.2,0.3,0.35,0.3,0.3,0.3,0.2,0.0,-0.3,-0.6, -0.8,-0.65,-0.3,-0.1,0.0,0.1,0.0,-0.1,0.2,0.1, 0.1,0.0,0.15,0.3,0.2,0.1,-0.5,-0.4,-0.2];
const dtwMC_8 = [0.15,0.15,0.15,0.15,0.15,0.15,0.15,0.15,0.12,0.15, 0.1,-0.2,-0.55,-0.1,0.73,0.3,0.3,0.35,0.4,0.5, 0.55,0.95,0.6,0.7,0.3,-0.2,-0.7,-0.95,-0.9,-0.95, -0.9,-1.0,-1.1,-0.7,0.1,0.6,-0.1,1.2,1.2,0.5, 0.2,0.2,0.3,0.93,0.6,0.3,0.2,0.0,-0.78,-0.5, -0.3,-0.2,-0.1,-0.1,0.0,0.1,0.3,0.05,-0.1,0.0, 0.0,-0.05,0.0,0.05,0.0,0.0,0.05,0.0,0.0];
const dtwMC_9 = [-0.5,-0.1,-0.1,-0.12,-0.15,-0.17,-0.2,-0.2,-0.2,-0.2, -0.18,-0.1,0.0,0.08,0.15,0.22,0.3,0.35,0.38,0.4, 0.4,0.42,0.42,0.35,0.1,-0.3,-0.75,-1.25,-1.0,-0.98, -1.0,-1.1,-1.15,-0.7,0.1,1.0,1.6,1.5,1.0,0.5, 0.25,0.2,0.15,0.15,0.15,0.15,0.1,0.0,-0.1,-0.15, -0.15,-0.1,-0.08,-0.05,-0.02,0.0,0.02,0.0,0.02,0.02, 0.03,0.02,0.02,0.03,0.03,0.03,-0.45,0.02,-0.87];
const dtwMC_10 = [-0.1,-0.05,-0.1,-0.1,-0.15,-0.15,-0.2,-0.2,-0.2,-0.2, -0.15,-0.05,0.05,0.1,0.2,0.35,0.45,0.5,0.5,0.55, 0.55,0.55,0.6,0.5,0.15,-0.35,-0.85,-1.05,-1.0,-0.95, -1.05,-1.15,-1.2,-0.7,0.2,1.1,1.7,1.6,1.0,0.45, 0.3,0.35,0.35,0.35,0.3,0.3,0.2,0.05,-0.1,-0.25, -0.3,-0.15,-0.1,0.0,0.0,0.05,0.05,0.1,0.1,0.05, 0.05,0.1,0.0,0.05,0.05,0.0,0.0,0.05,0.0];
const dtwMC_11 = [-0.05,-0.1,-0.1,-0.15,-0.15,-0.2,-0.2,-0.2,-0.15,-0.2, -0.15,-0.05,0.1,0.2,0.3,0.25,0.3,0.35,0.35,0.4, 0.35,0.4,0.4,0.35,0.1,-0.3,-0.8,-1.0,-0.95,-0.6, -0.9,-1.1,-1.2,-0.7,0.1,1.0,1.55,1.45,0.95,0.45, 0.25,0.2,0.2,0.2,0.2,0.15,0.1,0.0,-0.15,-0.2, -0.15,-0.1,-0.05,0.0,0.0,0.05,0.0,0.05,0.0,0.05, 0.0,0.0,0.0,0.05,0.25,0.1,0.0,-0.1,-0.7];
const dtwMC_12 = [-0.15,-0.15,-0.2,-0.2,-0.2,-0.2,-0.25,-0.25,-0.25,-0.25, -0.2,-0.1,0.0,0.1,0.15,0.25,0.35,0.4,0.45,0.45, 0.45,0.5,0.5,0.45,0.15,-0.3,-0.8,-1.0,-0.95,-1.0, -1.0,-1.1,-1.2,-0.75,0.15,1.05,1.65,1.55,1.0,0.5, 0.3,0.3,0.3,0.25,0.25,0.25,0.2,0.05,-0.1,-0.2, -0.2,-0.1,-0.05,0.0,0.0,0.05,0.05,0.05,0.05,0.05, 0.05,0.05,0.05,0.05,0.05,0.05,0.05,0.05,0.05];
const dtwMC_13 = [-0.2,-0.2,-0.15,-0.15,-0.2,-0.25,-0.25,-0.3,-0.25,-0.3, -0.25,-0.1,0.05,0.15,0.2,0.3,0.35,0.4,0.4,0.45, 0.5,0.45,0.45,0.4,0.1,-0.35,-0.9,-1.05,-1.05,-1.0, -0.95,-1.1,-1.3,-0.9,0.0,0.95,1.6,1.55,1.05,0.5, 0.35,0.3,0.3,0.3,0.3,0.25,0.2,0.05,-0.15,-0.3, -0.35,-0.25,-0.15,-0.1,0.0,0.0,0.05,0.0,0.0,0.05, 0.05,0.0,0.0,0.05,0.0,0.0,0.05,0.0,0.05];
const dtwMC_14 = [0.0,-0.05,-0.1,-0.15,-0.15,-0.2,-0.2,-0.2,-0.2,-0.2, -0.2,-0.05,0.05,0.15,0.25,0.3,0.35,0.4,0.45,0.45, 0.5,0.5,0.5,0.4,0.1,-0.4,-0.9,-1.05,-0.95,-0.9, -0.95,-1.1,-1.2,-0.8,0.1,1.0,1.65,1.6,1.05,0.5, 0.25,0.25,0.2,0.2,0.25,0.2,0.15,0.05,-0.15,-0.25, -0.3,-0.2,-0.1,0.0,0.05,0.1,0.3,0.1,0.0,0.1, 0.3,0.1,0.05,0.0,0.1,0.05,0.0,0.1,0.2];
const dtwMC_15 = [-0.2,-0.2,-0.2,-0.2,-0.2,-0.2,-0.2,-0.2,-0.2,-0.2, -0.2,-0.1,0.1,0.2,0.25,0.3,0.3,0.35,0.35,0.4, 0.4,0.4,0.45,0.35,0.1,-0.3,-0.85,-1.0,-0.9,-0.85, -0.9,-1.05,-1.1,-0.7,0.15,1.0,1.7,1.6,1.0,0.45, 0.35,0.4,0.4,0.4,0.35,0.3,0.25,0.1,-0.05,-0.2, -0.25,-0.2,-0.1,-0.05,0.0,0.05,0.05,0.0,-0.05,0.05, 0.05,-0.05,0.0,0.05,0.0,-0.1,-0.05,0.0,0.0];
const dtwMC = [dtwMC_0, dtwMC_1, dtwMC_2, dtwMC_3, dtwMC_4, dtwMC_5, dtwMC_6, dtwMC_7,
               dtwMC_12, dtwMC_13, dtwMC_14, dtwMC_15, dtwMC_8, dtwMC_10, dtwMC_11, dtwMC_9];
const dtwMC_colors = [0, 1, 2, 3, 4, 5, 6, 7, 0, 1, 2, 3, 8, 6, 4, 9];
const dtwMC_xTicks = [0, 20, 40, 60, 80, 100, 120, 140];
const dtwMC_yTicks = [-2, -1, 0, 1, 2, 3];

// ---------- panel 4: filtered + time-warped IMU traces ----------
const dtwIMU_frames = [0,2,4,6,8,10,12,14,16,18,20,22,24,26,28,30,32,34,36,38,
                       39,40,41,42,43,44,45,46,47,48,49,50,51,52,53,54,55,56,57,58,59,60,
                       62,64,66,68,70,72,74,76,78,79];
const dtwIMU_0 = [0.1,0.2,0.35,0.4,0.3,0.05,-0.2,-0.35,-0.45,-0.4,-0.3,-0.25,-0.2,-0.2,-0.2,-0.15,-0.1,-0.05,0.05,-0.1,
                  -0.3,-0.6,-0.75,-0.8,-0.75,-0.3,0.6,2.0,1.8,0.8,-0.3,-1.1,-0.9,-0.1,0.4,0.6,0.5,0.3,0.0,-0.2,-0.1,0.2,
                  0.45,0.55,0.55,0.35,0.2,0.15,0.15,0.15,0.15,0.15];
const dtwIMU_1 = [0.3,0.4,0.55,0.6,0.4,0.1,-0.2,-0.4,-0.55,-0.45,-0.3,-0.25,-0.2,-0.2,-0.2,-0.15,-0.1,-0.05,0.05,-0.1,
                  -0.3,-0.5,-0.4,0.2,1.2,2.3,3.0,3.3,3.0,1.8,0.0,-1.8,-1.3,-0.2,0.5,0.7,0.6,0.3,0.0,-0.2,-0.1,0.2,
                  0.35,0.4,0.35,0.3,0.3,0.3,0.3,0.3,0.3,0.55];
const dtwIMU_2 = [0.35,0.5,0.75,0.8,0.55,0.2,-0.1,-0.25,-0.3,-0.3,-0.25,-0.25,-0.25,-0.25,-0.25,-0.2,-0.2,-0.2,-0.25,-0.3,
                  -0.35,-0.45,-0.3,0.3,0.9,1.6,2.1,2.3,2.0,1.2,0.2,-0.5,-0.3,0.3,0.6,0.7,0.6,0.4,0.2,0.0,0.1,0.35,
                  0.55,0.7,0.85,0.6,0.35,0.3,0.3,0.3,0.3,0.3];
const dtwIMU_3 = [0.2,0.2,0.2,0.2,0.2,0.2,0.2,0.2,0.22,0.2,0.2,0.2,0.2,0.2,0.2,0.2,0.2,0.2,0.2,0.2,
                  0.2,0.15,0.1,0.6,1.6,2.6,3.3,3.4,3.0,2.3,1.9,1.6,1.3,1.0,1.0,0.9,0.6,0.3,-0.2,-0.45,-0.3,0.0,
                  0.2,0.2,0.2,0.2,0.2,0.2,0.2,0.2,0.2,0.2];
const dtwIMU_4 = [0.2,0.3,0.5,0.55,0.4,0.1,-0.15,-0.25,-0.3,-0.3,-0.25,-0.2,-0.2,-0.2,-0.2,-0.15,-0.1,-0.1,-0.05,-0.3,
                  -0.55,-0.7,-0.5,0.2,1.0,2.0,3.0,3.9,4.1,2.5,-0.5,-1.6,-1.0,0.1,0.8,0.9,0.8,0.4,0.0,-0.2,-0.1,0.3,
                  0.6,0.75,0.75,0.5,0.35,0.3,0.3,0.3,0.3,0.3];
const dtwIMU_5 = [-0.05,-0.05,-0.05,-0.05,-0.05,-0.05,-0.05,-0.05,-0.05,-0.05,-0.05,-0.05,-0.05,-0.05,-0.05,-0.05,-0.05,-0.05,-0.05,-0.05,
                  -0.05,-0.1,-0.05,0.3,0.8,1.1,1.2,1.0,0.7,0.3,-0.1,-0.5,-0.7,-0.65,-0.6,-0.58,-0.55,-0.55,-0.5,-0.4,-0.2,0.2,
                  0.9,1.0,0.8,0.5,0.35,0.35,0.35,0.35,0.35,0.35];
const dtwIMU_6 = [0.3,0.45,0.65,0.7,0.45,0.15,-0.1,-0.2,-0.25,-0.25,-0.2,-0.15,-0.15,-0.15,-0.15,-0.15,-0.1,-0.05,0.05,-0.1,
                  -0.25,-0.4,-0.2,0.5,1.5,2.6,3.8,4.65,4.45,1.5,-1.95,-1.7,-0.3,0.9,1.35,1.5,1.0,0.4,-0.1,-0.3,-0.2,0.2,
                  0.5,0.65,0.6,0.4,0.3,0.3,0.3,0.3,0.3,0.3];
const dtwIMU_7 = [0.2,0.3,0.5,0.55,0.35,0.1,-0.15,-0.25,-0.3,-0.3,-0.25,-0.2,-0.2,-0.2,-0.2,-0.2,-0.15,-0.1,0.0,-0.2,
                  -0.5,-0.75,-0.6,0.0,0.6,1.2,1.4,1.3,0.6,-1.0,-2.45,-2.3,-1.0,0.2,0.7,0.8,0.6,0.2,-0.2,-0.35,-0.3,0.1,
                  0.4,0.5,0.45,0.35,0.3,0.3,0.3,0.3,0.3,0.3];
const dtwIMU_8 = [0.25,0.35,0.5,0.55,0.35,0.1,-0.1,-0.2,-0.25,-0.25,-0.25,-0.25,-0.25,-0.28,-0.3,-0.25,-0.15,-0.05,0.05,-0.2,
                  -0.45,-0.7,-0.8,-0.5,0.8,2.0,3.3,3.9,3.4,1.6,-0.5,-1.85,-1.2,-0.2,0.5,0.7,0.6,0.3,0.0,-0.25,-0.15,0.3,
                  0.8,0.7,0.45,0.4,0.4,0.4,0.4,0.4,0.4,0.45];
const dtwIMU_9 = [0.4,0.55,0.75,0.78,0.5,0.2,-0.05,-0.15,-0.2,-0.2,-0.15,-0.1,-0.1,-0.1,-0.1,-0.1,-0.05,0.05,0.2,0.1,
                  -0.1,-0.3,-0.1,0.6,1.6,2.8,3.8,4.2,3.6,1.7,-0.6,-1.2,-0.5,0.4,0.8,0.9,0.7,0.35,0.0,-0.2,-0.1,0.2,
                  0.45,0.6,0.6,0.45,0.35,0.35,0.35,0.35,0.35,0.4];
const dtwIMU_10 = [-0.08,-0.08,-0.08,-0.08,-0.08,-0.08,-0.08,-0.08,-0.08,-0.08,-0.08,-0.08,-0.08,-0.08,-0.08,-0.08,-0.08,-0.08,-0.08,-0.08,
                   -0.05,0.0,0.05,0.1,0.2,0.3,0.4,0.45,0.4,0.2,0.0,-0.1,-0.05,0.1,0.15,0.15,0.1,0.05,0.0,0.0,0.0,0.05,
                   0.05,0.05,0.05,0.05,0.05,0.05,0.05,0.05,0.05,0.05];
const dtwIMU_11 = [0.15,0.25,0.4,0.45,0.3,0.05,-0.15,-0.2,-0.25,-0.2,-0.15,-0.1,-0.1,-0.1,-0.05,-0.05,0.0,0.05,0.1,-0.05,
                   -0.25,-0.5,-0.3,0.2,0.9,1.5,1.8,1.6,1.0,0.2,-1.3,-1.5,-0.8,0.0,0.4,0.6,0.5,0.3,0.05,-0.15,-0.05,0.25,
                   0.4,0.5,0.5,0.35,0.25,0.25,0.25,0.25,0.25,0.3];
const dtwIMU_12 = [0.15,0.15,0.15,0.15,0.15,0.15,0.15,0.15,0.15,0.15,0.15,0.15,0.15,0.15,0.15,0.15,0.15,0.15,0.15,0.15,
                   0.1,0.0,-0.3,-0.8,-0.6,0.4,1.6,2.8,2.6,1.2,0.2,-0.4,-0.3,0.2,0.5,0.6,0.5,0.3,0.1,0.0,0.2,0.5,
                   0.8,0.6,0.45,0.4,0.4,0.4,0.4,0.4,0.4,0.4];
const dtwIMU_13 = [0.25,0.35,0.55,0.6,0.4,0.1,-0.15,-0.25,-0.3,-0.3,-0.25,-0.2,-0.2,-0.2,-0.15,-0.15,-0.1,-0.05,0.0,-0.15,
                   -0.35,-0.55,-0.45,0.1,0.8,1.6,2.2,2.5,2.2,1.2,-0.2,-0.9,-0.6,0.2,0.6,0.75,0.6,0.3,0.0,-0.2,-0.1,0.25,
                   0.45,0.55,0.5,0.35,0.25,0.25,0.25,0.25,0.25,0.25];
const dtwIMU_14 = [0.0,0.0,0.0,0.0,0.0,0.0,0.0,0.0,0.0,0.0,0.0,0.0,0.0,0.0,0.0,0.0,0.0,0.0,0.0,0.0,
                   0.0,0.05,0.2,0.7,1.5,2.3,2.8,2.9,2.4,1.3,0.1,-0.7,-0.5,0.1,0.5,0.6,0.5,0.3,0.1,-0.05,0.05,0.2,
                   0.3,0.3,0.3,0.2,0.1,0.1,0.1,0.1,0.1,0.1];
const dtwIMU_15 = [0.3,0.45,0.6,0.65,0.45,0.15,-0.1,-0.25,-0.3,-0.3,-0.25,-0.2,-0.15,-0.15,-0.15,-0.1,-0.1,-0.05,0.1,0.0,
                   -0.2,-0.45,-0.35,0.2,1.1,2.0,2.6,2.7,2.3,1.2,-0.3,-1.1,-0.7,0.1,0.6,0.8,0.7,0.4,0.05,-0.15,-0.05,0.25,
                   0.5,0.6,0.6,0.4,0.3,0.3,0.3,0.3,0.3,0.3];
const dtwIMU_16 = [0.1,0.1,0.1,0.1,0.1,0.1,0.1,0.1,0.1,0.1,0.1,0.1,0.1,0.1,0.1,0.1,0.1,0.1,0.1,0.1,
                   0.1,0.1,0.15,0.4,0.9,1.4,1.7,1.8,1.5,0.8,-0.2,-0.9,-0.6,0.0,0.4,0.5,0.4,0.25,0.1,0.0,0.1,0.2,
                   0.25,0.25,0.2,0.2,0.15,0.15,0.15,0.15,0.15,0.15];
const dtwIMU_17 = [0.35,0.5,0.7,0.75,0.5,0.15,-0.1,-0.2,-0.25,-0.25,-0.2,-0.15,-0.1,-0.1,-0.1,-0.1,-0.05,0.0,0.15,0.0,
                   -0.2,-0.35,-0.2,0.4,1.3,2.3,3.3,3.7,3.2,1.4,-1.0,-1.6,-0.8,0.3,0.8,1.0,0.8,0.4,0.0,-0.25,-0.15,0.2,
                   0.5,0.6,0.55,0.4,0.3,0.3,0.3,0.3,0.3,0.35];
const dtwIMU = [dtwIMU_0, dtwIMU_1, dtwIMU_2, dtwIMU_3, dtwIMU_4, dtwIMU_5, dtwIMU_6,
                dtwIMU_7, dtwIMU_8, dtwIMU_9, dtwIMU_10, dtwIMU_11, dtwIMU_12, dtwIMU_13,
                dtwIMU_14, dtwIMU_15, dtwIMU_16, dtwIMU_17];
const dtwIMU_colors = [0, 1, 2, 3, 4, 5, 6, 7, 8, 9, 3, 6, 8, 1, 2, 0, 3, 6];
const dtwIMU_xTicks = [0, 10, 20, 30, 40, 50, 60, 70, 80];
const dtwIMU_yTicks = [-2, -1, 0, 1, 2, 3, 4, 5];

// ---------- panel 5: mean +/- SD ----------
const meanFrames = [0,2,4,6,8,10,12,14,16,18,20,22,24,26,28,30,32,34,36,38,40,
                    41,42,43,44,45,46,47,48,49,50,51,52,53,54,55,56,57,58,59,60,61,62,63,64,
                    66,68,70,72,74,75];
const dotMean = [0.07,0.10,0.18,0.30,0.45,0.53,0.45,0.22,0.00,-0.12,-0.18,-0.20,-0.18,-0.12,-0.07,-0.04,-0.03,-0.05,-0.07,-0.02,0.06,
                 0.06,0.03,-0.03,-0.08,0.00,0.30,0.75,1.15,1.55,1.85,1.80,1.50,1.00,0.50,0.10,0.05,0.15,0.38,0.45,0.40,0.30,0.16,0.08,0.10,
                 0.20,0.32,0.34,0.33,0.28,0.25];
const dotUpper = [0.17,0.17,0.25,0.38,0.62,0.78,0.60,0.30,0.06,-0.05,-0.10,-0.12,-0.10,-0.06,-0.01,0.02,0.03,0.00,-0.02,0.04,0.12,
                  0.12,0.10,0.05,0.02,0.15,0.55,1.20,1.90,2.50,2.65,2.60,2.20,1.60,0.90,0.45,0.35,0.45,0.62,0.65,0.55,0.42,0.28,0.18,0.20,
                  0.28,0.42,0.45,0.44,0.38,0.33];
const dotLower = [-0.02,0.03,0.10,0.22,0.30,0.30,0.30,0.14,-0.06,-0.18,-0.26,-0.28,-0.26,-0.18,-0.12,-0.10,-0.09,-0.10,-0.12,-0.08,0.00,
                  0.00,-0.05,-0.12,-0.22,-0.15,0.05,0.30,0.55,0.90,1.10,1.05,0.85,0.35,-0.10,-0.45,-0.30,-0.10,0.15,0.25,0.25,0.18,0.05,-0.02,0.02,
                  0.12,0.22,0.24,0.22,0.18,0.15];
const bvhMean = [-0.10,0.00,0.10,0.18,0.25,0.30,0.32,0.36,0.40,0.43,0.43,0.38,0.22,-0.02,-0.35,-0.70,-0.90,-0.95,-0.95,-1.05,-1.13,
                 -1.12,-0.97,-0.72,-0.40,-0.05,0.30,0.65,1.00,1.28,1.42,1.38,1.20,0.95,0.70,0.50,0.35,0.25,0.20,0.18,0.18,0.19,0.20,0.20,0.20,
                 0.19,0.13,0.03,-0.05,-0.12,-0.15];
const bvhUpper = [-0.04,0.06,0.16,0.24,0.31,0.37,0.39,0.43,0.47,0.51,0.51,0.46,0.29,0.05,-0.27,-0.60,-0.78,-0.83,-0.84,-0.92,-0.93,
                  -0.90,-0.78,-0.55,-0.28,0.05,0.42,0.82,1.22,1.55,1.70,1.65,1.42,1.12,0.82,0.60,0.43,0.33,0.27,0.25,0.25,0.26,0.27,0.28,0.27,
                  0.26,0.20,0.09,0.01,-0.06,-0.09];
const bvhLower = [-0.16,-0.06,0.04,0.12,0.19,0.23,0.25,0.29,0.33,0.35,0.35,0.30,0.15,-0.09,-0.43,-0.80,-1.02,-1.07,-1.08,-1.20,-1.33,
                  -1.37,-1.18,-0.92,-0.55,-0.15,0.18,0.50,0.80,1.05,1.18,1.12,0.98,0.78,0.58,0.40,0.27,0.17,0.13,0.11,0.11,0.12,0.13,0.13,0.13,
                  0.12,0.06,-0.03,-0.11,-0.18,-0.21];
const mean_xTicks = [0, 10, 20, 30, 40, 50, 60, 70];
const mean_yTicks = [-1, 0, 1, 2];

// ---------- panel 6: SPM{t} ----------
const spmFrames = [0,1,2,3,4,5,6,7,8,9,10,11,12,13,14,15,16,17,18,19,20,21,22,23,24,25,26,27,28,29,30,31,32,33,34,35,36,37,38,39,40,41,42,43,44,45,46,47,48,49,50,51,52,53,54,55,56,57,58,59,60,61,62,63,64,65,66,67,68,69,70,71,72,73,74,75];
const spmT = [29,22,17,12,12,17,24,25,23,21, 19,16,9,-10,-29,-51,-75,-93,-104,-104, -102,-100,-99,-97,-91,-72,-30,25,72,93,
              102,106,107,106,103,101,102,106,112,117, 119,117,108,88,40,-5,-20,-20,-8,6, 12,12,6,-3,-13,-18,-14,-2,15,27,
              25,10,-8,-17,-18,-10,10,26,38,49, 59,68,77,84,88,92];
const T_CRIT = 3.197;
const spm_yTicks = [-100, -50, 0, 50, 100];

// ---------- layout of the six panels (px) ----------
const PANELS = [
  { left: 83,  top: 137,  width: 444, height: 289 },
  { left: 645, top: 137,  width: 444, height: 287 },
  { left: 82,  top: 598,  width: 448, height: 290 },
  { left: 642, top: 599,  width: 444, height: 289 },
  { left: 84,  top: 1120, width: 438, height: 349 },
  { left: 648, top: 1120, width: 438, height: 349 }
];

const FONT = 'DejaVu Sans';
const SERIF = 'DejaVu Serif';
const minus = v => String(v).replace('-', '\u2212');

function axisFor(gi, min, max, ticks, fs, extra) {
  return Object.assign({
    type: 'value', gridIndex: gi, min: min, max: max,
    axisLine: { show: true, onZero: false, lineStyle: { color: '#000', width: 1 } },
    axisTick: { show: true, length: 4, customValues: ticks, lineStyle: { color: '#000', width: 1 } },
    axisLabel: { customValues: ticks, fontSize: fs, color: '#000', fontFamily: FONT, margin: 6, formatter: minus },
    splitLine: { show: false }
  }, extra || {});
}
function accelName(gap) {
  return {
    name: 'Acceleration [*9.81{it|m}/{it|s}{sup|2}]',
    nameLocation: 'middle', nameRotate: 90, nameGap: gap,
    nameTextStyle: {
      fontSize: 17, color: '#000', fontFamily: FONT,
      rich: {
        it: { fontSize: 17, fontStyle: 'italic', fontFamily: FONT, color: '#000' },
        sup: { fontSize: 11.5, fontFamily: FONT, color: '#000', verticalAlign: 'top', padding: [0, 0, 7, 0] }
      }
    }
  };
}

// ---------- series ----------
const series = [];
function traceSeries(gi, xs, ys, color) {
  const data = [];
  for (let i = 0; i < ys.length && i < xs.length; i++) data.push([xs[i], ys[i]]);
  return {
    type: 'line', xAxisIndex: gi, yAxisIndex: gi, data: data, symbol: 'none',
    silent: true, animation: false, z: 2,
    lineStyle: { color: color, width: 1.5 }, itemStyle: { color: color }
  };
}
function stepFrames(step, n) {
  const xs = [];
  for (let i = 0; i < n; i++) xs.push(i * step);
  return xs;
}

rawMC.forEach((ys, k) => {
  series.push(traceSeries(0, stepFrames(RAW_MC_STEP, ys.length), ys, TAB10[rawMC_colors[k]]));
});
rawIMU.forEach((ys, k) => {
  series.push(traceSeries(1, stepFrames(RAW_IMU_STEP, ys.length), ys, TAB10[rawIMU_colors[k]]));
});
dtwMC.forEach((ys, k) => {
  series.push(traceSeries(2, dtwMC_frames, ys, TAB10[dtwMC_colors[k]]));
});
dtwIMU.forEach((ys, k) => {
  series.push(traceSeries(3, dtwIMU_frames, ys, TAB10[dtwIMU_colors[k]]));
});

// SD bands drawn as polygons through the axis scales
function bandSeries(gi, xs, up, lo, color, z) {
  return {
    type: 'custom', xAxisIndex: gi, yAxisIndex: gi, silent: true, animation: false, z: z,
    data: [[xs[0], up[0]]],
    renderItem: function (params, api) {
      const pts = [];
      for (let i = 0; i < xs.length; i++) pts.push(api.coord([xs[i], up[i]]));
      for (let i = xs.length - 1; i >= 0; i--) pts.push(api.coord([xs[i], lo[i]]));
      return { type: 'polygon', shape: { points: pts }, style: { fill: color } };
    }
  };
}
function meanLine(name, xs, ys, color, z) {
  const data = xs.map((x, i) => [x, ys[i]]);
  return {
    name: name, type: 'line', xAxisIndex: 4, yAxisIndex: 4, data: data, symbol: 'none',
    animation: false, z: z, lineStyle: { color: color, width: 4 }, itemStyle: { color: color }
  };
}
series.push(bandSeries(4, meanFrames, dotUpper, dotLower, 'rgba(31,119,180,0.45)', 2));
series.push(bandSeries(4, meanFrames, bvhUpper, bvhLower, 'rgba(255,127,14,0.45)', 3));
const dotSeries = meanLine('DOT', meanFrames, dotMean, '#1f77b4', 4);
dotSeries.markLine = {
  silent: true, symbol: 'none', label: { show: false },
  lineStyle: { color: '#000', type: [2, 5], width: 2.5, cap: 'round' },
  data: [{ yAxis: 0 }]
};
series.push(dotSeries);
series.push(meanLine('BVH', meanFrames, bvhMean, '#ff7f0e', 5));

// SPM fill (curve to zero, with the sub-threshold band left blank)
series.push({
  type: 'custom', xAxisIndex: 5, yAxisIndex: 5, silent: true, animation: false, z: 2,
  data: [[spmFrames[0], spmT[0]]],
  renderItem: function (params, api) {
    const last = spmFrames.length - 1;
    const pts = [api.coord([spmFrames[0], 0])];
    for (let i = 0; i < spmFrames.length; i++) pts.push(api.coord([spmFrames[i], spmT[i]]));
    pts.push(api.coord([spmFrames[last], 0]));
    const a = api.coord([spmFrames[0], T_CRIT]);
    const b = api.coord([spmFrames[last], -T_CRIT]);
    return {
      type: 'group', children: [
        { type: 'polygon', shape: { points: pts }, style: { fill: '#cccccc' } },
        { type: 'rect', shape: { x: a[0], y: a[1], width: b[0] - a[0], height: b[1] - a[1] }, style: { fill: '#ffffff' } }
      ]
    };
  }
});
series.push({
  type: 'line', xAxisIndex: 5, yAxisIndex: 5, symbol: 'none', silent: true, animation: false, z: 4,
  data: spmFrames.map((f, i) => [f, spmT[i]]),
  lineStyle: { color: '#000', width: 3 }, itemStyle: { color: '#000' },
  markLine: {
    silent: true, symbol: 'none', label: { show: false },
    data: [
      { yAxis: T_CRIT, lineStyle: { color: '#000', type: [5, 3], width: 1 } },
      { yAxis: -T_CRIT, lineStyle: { color: '#000', type: [5, 3], width: 1 } },
      { yAxis: 0, lineStyle: { color: '#000', type: [1, 2], width: 1 } }
    ]
  }
});

// ---------- decorations: headings, arrows, frames, annotations ----------
function arrow(x1, y1, x2, y2) {
  const a = Math.atan2(y2 - y1, x2 - x1), L = 11, W = 6;
  const bx = x2 - L * Math.cos(a), by = y2 - L * Math.sin(a);
  const px = -Math.sin(a) * W, py = Math.cos(a) * W;
  return [
    { type: 'line', shape: { x1: x1, y1: y1, x2: bx, y2: by }, style: { stroke: '#000', lineWidth: 3.5 } },
    { type: 'polygon', shape: { points: [[x2, y2], [bx + px, by + py], [bx - px, by - py]] }, style: { fill: '#000' } }
  ];
}
function heading(text, x, y, size, bold) {
  return {
    type: 'text', x: x, y: y, z: 50,
    style: {
      text: text, x: 0, y: 0, align: 'center', verticalAlign: 'middle',
      font: (bold ? 'bold ' : '') + size + 'px "' + SERIF + '"', fill: '#000',
      rich: { g: { fill: '#b5b5b5', font: size + 'px "' + SERIF + '"' } }
    }
  };
}
const frames = PANELS.map(p => ({
  type: 'rect', z: 100, silent: true,
  shape: { x: p.left + 0.5, y: p.top + 0.5, width: p.width, height: p.height },
  style: { fill: 'none', stroke: '#222', lineWidth: 1 }
}));

const graphic = [].concat(
  [
    heading('Acceleration data from', 312, 23, 23, true),
    heading('markerless motion capture', 312, 54, 23, true),
    heading('Acceleration data from IMU', 857, 23, 23, true),
    heading('sensor', 857, 54, 23, true),
    heading('Resampled Raw Data', 592, 106, 22.8, false),
    heading('Low-Pass Filter {g|+} Dynamic Time Warping', 592, 575, 22.8, false),
    heading('Mean Value {g|+} Standard Deviation, SPM', 592, 1078, 22.8, false)
  ],
  arrow(293, 473, 293, 553),
  arrow(890, 470, 890, 550),
  arrow(293, 926, 528, 1047),
  arrow(877, 925, 644, 1046),
  frames,
  [
    {
      type: 'group', z: 60, children: [
        { type: 'rect', shape: { x: 657, y: 1238, width: 99, height: 30 },
          style: { fill: '#fff', stroke: '#b0b0b0', lineWidth: 1.5 } },
        { type: 'text', x: 706, y: 1253,
          style: { text: 'p < 0.001', align: 'center', verticalAlign: 'middle',
                   font: '17px "' + FONT + '"', fill: '#000' } }
      ]
    },
    {
      type: 'text', x: 815, y: 1351, z: 60,
      style: {
        text: '{i|\u03b1}=0.05:  {i|t}{s|*}=3.197', x: 0, y: 0, verticalAlign: 'middle',
        font: '13px "' + FONT + '"', fill: '#ff0000',
        rich: {
          i: { font: 'italic 13px "' + FONT + '"', fill: '#ff0000' },
          s: { font: '9px "' + FONT + '"', fill: '#ff0000', verticalAlign: 'top' }
        }
      }
    }
  ]
);

const frameName = { name: 'Frame', nameLocation: 'middle', nameGap: 32,
  nameTextStyle: { fontSize: 17, color: '#000', fontFamily: FONT } };

const option = {
  backgroundColor: '#ffffff',
  animation: false,
  textStyle: { fontFamily: FONT },
  grid: PANELS.map(p => ({ left: p.left, top: p.top, width: p.width, height: p.height, containLabel: false })),
  xAxis: [
    axisFor(0, -27, 567, rawMC_xTicks, 13),
    axisFor(1, -45, 945, rawIMU_xTicks, 13),
    axisFor(2, -6.8, 142.8, dtwMC_xTicks, 13),
    axisFor(3, -3.95, 82.95, dtwIMU_xTicks, 13),
    axisFor(4, 0, 75, mean_xTicks, 17, frameName),
    axisFor(5, 0, 75, mean_xTicks, 17, frameName)
  ],
  yAxis: [
    axisFor(0, -2.95, 4.65, rawMC_yTicks, 13, accelName(51)),
    axisFor(1, -12.8, 14.5, rawIMU_yTicks, 13),
    axisFor(2, -2.25, 3.18, dtwMC_yTicks, 13, accelName(49)),
    axisFor(3, -2.8, 5.0, dtwIMU_yTicks, 13),
    axisFor(4, -1.65, 2.97, mean_yTicks, 17, accelName(44)),
    axisFor(5, -121, 135, spm_yTicks, 17, { name: 'SPM{t}', nameLocation: 'middle', nameRotate: 90, nameGap: 58,
      nameTextStyle: { fontSize: 18, color: '#000', fontFamily: FONT } })
  ],
  legend: {
    data: ['DOT', 'BVH'], orient: 'vertical', left: 414, top: 1129,
    icon: 'rect', itemWidth: 38, itemHeight: 5, itemGap: 12,
    backgroundColor: '#ffffff', borderColor: '#cccccc', borderWidth: 1, borderRadius: 3,
    padding: [8, 8, 8, 8],
    textStyle: { fontSize: 16, color: '#000', fontFamily: FONT, padding: [0, 0, 0, 8] }
  },
  graphic: graphic,
  series: series
};

const chart = echarts.init(document.getElementById('chart'), null, { renderer: 'canvas', width: 1081, height: 1521 });
chart.setOption(option);
</script>
</body>
</html>
